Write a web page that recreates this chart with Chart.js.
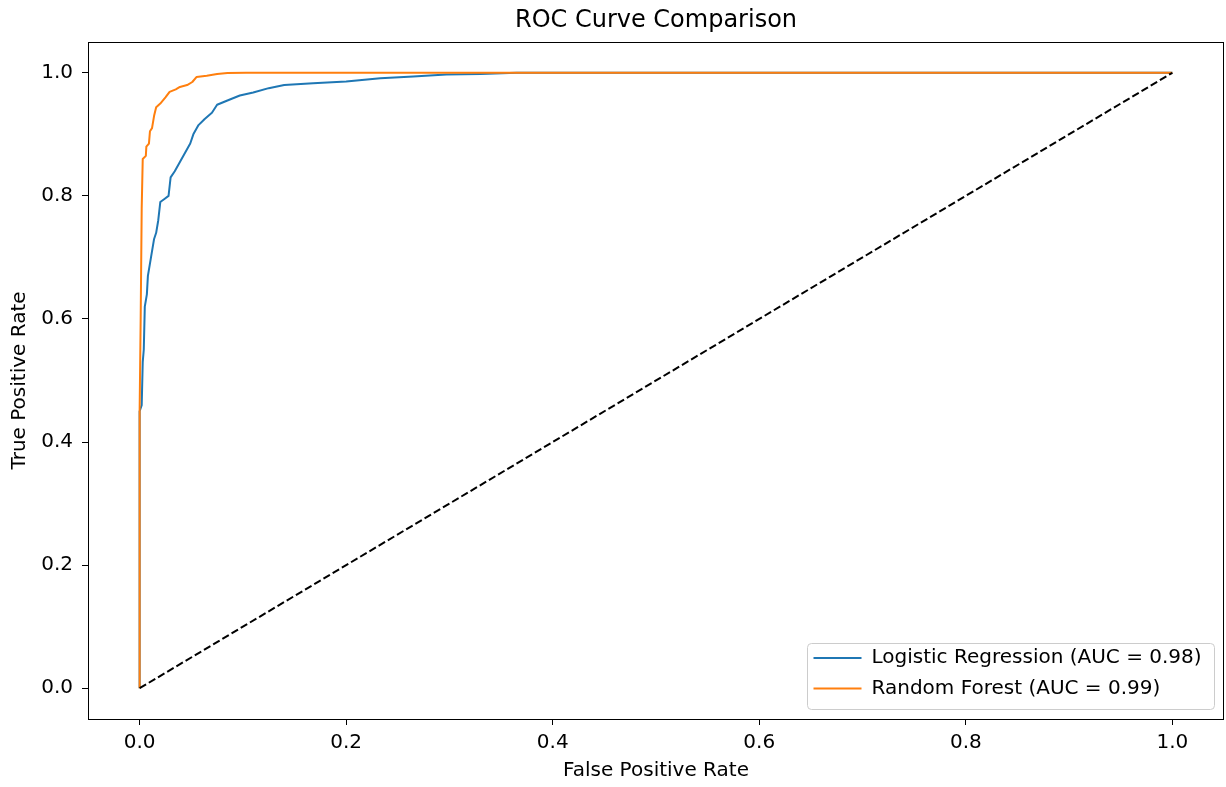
<!DOCTYPE html>
<html>
<head>
<meta charset="utf-8">
<title>ROC Curve Comparison</title>
<script src="https://cdn.jsdelivr.net/npm/chart.js@4.4.1/dist/chart.umd.min.js"></script>
<style>
  html, body { margin: 0; padding: 0; background: #fff; }
  #wrap { position: relative; width: 1226px; height: 787px; }
</style>
</head>
<body>
<div id="wrap"><canvas id="roc"></canvas></div>
<script>
// --- Data ---

const lrFpr = [0, 0, 0.002, 0.003, 0.004, 0.005, 0.007, 0.008, 0.011, 0.014, 0.016, 0.018, 0.020, 0.024,
  0.028, 0.030, 0.034, 0.039, 0.044, 0.049, 0.052, 0.057, 0.063, 0.070, 0.075, 0.085, 0.097, 0.110,
  0.125, 0.140, 0.168, 0.200, 0.233, 0.265, 0.297, 0.330, 0.365, 1.0];
const lrTpr = [0, 0.45, 0.46, 0.53, 0.55, 0.62, 0.64, 0.67, 0.70, 0.73, 0.74, 0.76, 0.79, 0.795,
  0.80, 0.83, 0.84, 0.855, 0.87, 0.885, 0.90, 0.915, 0.925, 0.935, 0.948, 0.955, 0.963, 0.968,
  0.975, 0.980, 0.983, 0.986, 0.991, 0.994, 0.997, 0.998, 1.0, 1.0];

const rfFpr = [0, 0, 0.001, 0.002, 0.003, 0.006, 0.0065, 0.009, 0.010, 0.012, 0.014, 0.016, 0.020,
  0.025, 0.029, 0.035, 0.039, 0.046, 0.051, 0.055, 0.065, 0.075, 0.085, 0.103, 1.0];
const rfTpr = [0, 0.45, 0.60, 0.78, 0.86, 0.865, 0.88, 0.885, 0.905, 0.91, 0.93, 0.944, 0.95,
  0.96, 0.969, 0.973, 0.977, 0.980, 0.985, 0.993, 0.995, 0.998, 0.9995, 1.0, 1.0];

const chanceFpr = [0, 1];
const chanceTpr = [0, 1];

const axisTicks = [0, 0.2, 0.4, 0.6, 0.8, 1.0];
const seriesLabels = ['Logistic Regression (AUC = 0.98)', 'Random Forest (AUC = 0.99)'];

const FONT = 'DejaVu Sans';
const FS = 20;
Chart.defaults.font.family = FONT;
Chart.defaults.color = '#000';

const toPoints = (xs, ys) => xs.map((x, i) => ({ x, y: ys[i] }));
const fixedTicks = scale => { scale.ticks = axisTicks.map(v => ({ value: v })); };

// --- Axes frame + matplotlib-like legend box ---

const LEG_PAD = 10.6;

const framePlugin = {
  id: 'frame',
  beforeDraw(chart) {
    const { ctx, chartArea: ca, legend } = chart;
    ctx.save();
    ctx.font = `${FS}px ${FONT}`;
    const tw = Math.max(...legend.legendItems.map(it => ctx.measureText(it.text).width));
    const w = Math.round(6.5 + 48 + FS / 2 + tw + 12);
    const h = 66;
    const fx = Math.round(ca.right - 10 - w);
    const fy = Math.round(ca.bottom - 10 - h);
    // move the legend so its rows sit inside the box
    legend.left = fx + 6.5 - LEG_PAD;
    legend.top = fy + 15 - FS / 2 - LEG_PAD;
    legend.right = fx + w;
    legend.bottom = ca.bottom;
    legend.width = legend.right - legend.left;
    legend.height = legend.bottom - legend.top;

    ctx.fillStyle = 'rgba(255,255,255,0.8)';
    ctx.strokeStyle = '#cccccc';
    ctx.lineWidth = 1;
    ctx.beginPath();
    ctx.roundRect(fx + 0.5, fy + 0.5, w, h, 4);
    ctx.fill();
    ctx.stroke();
    ctx.restore();
  },
  afterDatasetsDraw(chart) {
    const { ctx, chartArea: ca } = chart;
    ctx.save();
    ctx.strokeStyle = '#000';
    ctx.lineWidth = 1;
    const l = Math.round(ca.left) + 0.5, t = Math.round(ca.top) + 0.5;
    ctx.strokeRect(l, t, Math.round(ca.right) - Math.round(ca.left) - 1, Math.round(ca.bottom) - Math.round(ca.top));
    ctx.restore();
  },
};

// --- Chart ---

new Chart(document.getElementById('roc'), {
  type: 'scatter',
  data: {
    datasets: [
      {
        label: seriesLabels[0],
        data: toPoints(lrFpr, lrTpr),
        borderColor: '#1f77b4',
        backgroundColor: '#1f77b4',
        borderWidth: 2,
        borderJoinStyle: 'round',
        showLine: true,
        pointRadius: 0,
        order: 3,
      },
      {
        label: seriesLabels[1],
        data: toPoints(rfFpr, rfTpr),
        borderColor: '#ff7f0e',
        backgroundColor: '#ff7f0e',
        borderWidth: 2,
        borderJoinStyle: 'round',
        showLine: true,
        pointRadius: 0,
        order: 2,
      },
      {
        label: 'Chance',
        data: toPoints(chanceFpr, chanceTpr),
        borderColor: '#000',
        backgroundColor: '#000',
        borderWidth: 2,
        borderDash: [7.5, 3.2],
        showLine: true,
        pointRadius: 0,
        order: 1,
      },
    ],
  },
  options: {
    responsive: true,
    maintainAspectRatio: false,
    animation: false,
    events: [],
    layout: { padding: { left: 0, right: 2, top: 0, bottom: 0 } },
    scales: {
      x: {
        type: 'linear',
        min: -0.05,
        max: 1.05,
        afterBuildTicks: fixedTicks,
        afterFit: s => { s.height = 68; },
        ticks: { callback: v => v.toFixed(1), font: { size: FS }, color: '#000', padding: 6, maxRotation: 0, autoSkip: false },
        grid: { drawOnChartArea: false, drawTicks: true, tickLength: 6, tickColor: '#000', tickWidth: 1 },
        border: { display: false },
        title: { display: true, text: 'False Positive Rate', font: { size: FS }, color: '#000', padding: { top: 0, bottom: 4 } },
      },
      y: {
        type: 'linear',
        min: -0.05,
        max: 1.05,
        afterBuildTicks: fixedTicks,
        afterFit: s => { s.width = 88; },
        ticks: { callback: v => v.toFixed(1), font: { size: FS }, color: '#000', padding: 9, autoSkip: false },
        grid: { drawOnChartArea: false, drawTicks: true, tickLength: 6, tickColor: '#000', tickWidth: 1 },
        border: { display: false },
        title: { display: true, text: 'True Positive Rate', font: { size: FS }, color: '#000', padding: { top: 8, bottom: 0 } },
      },
    },
    plugins: {
      title: {
        display: true,
        fullSize: false,
        text: 'ROC Curve Comparison',
        color: '#000',
        font: { size: 24, weight: 'normal' },
        padding: { top: 6.6, bottom: 6.6 },
      },
      legend: {
        position: 'chartArea',
        align: 'start',
        labels: {
          usePointStyle: true,
          pointStyle: 'line',
          pointStyleWidth: 48,
          padding: LEG_PAD,
          color: '#000',
          font: { size: FS },
          filter: item => item.datasetIndex < 2,
          sort: (a, b) => a.datasetIndex - b.datasetIndex,
        },
      },
      tooltip: { enabled: false },
    },
  },
  plugins: [framePlugin],
});
</script>
</body>
</html>
